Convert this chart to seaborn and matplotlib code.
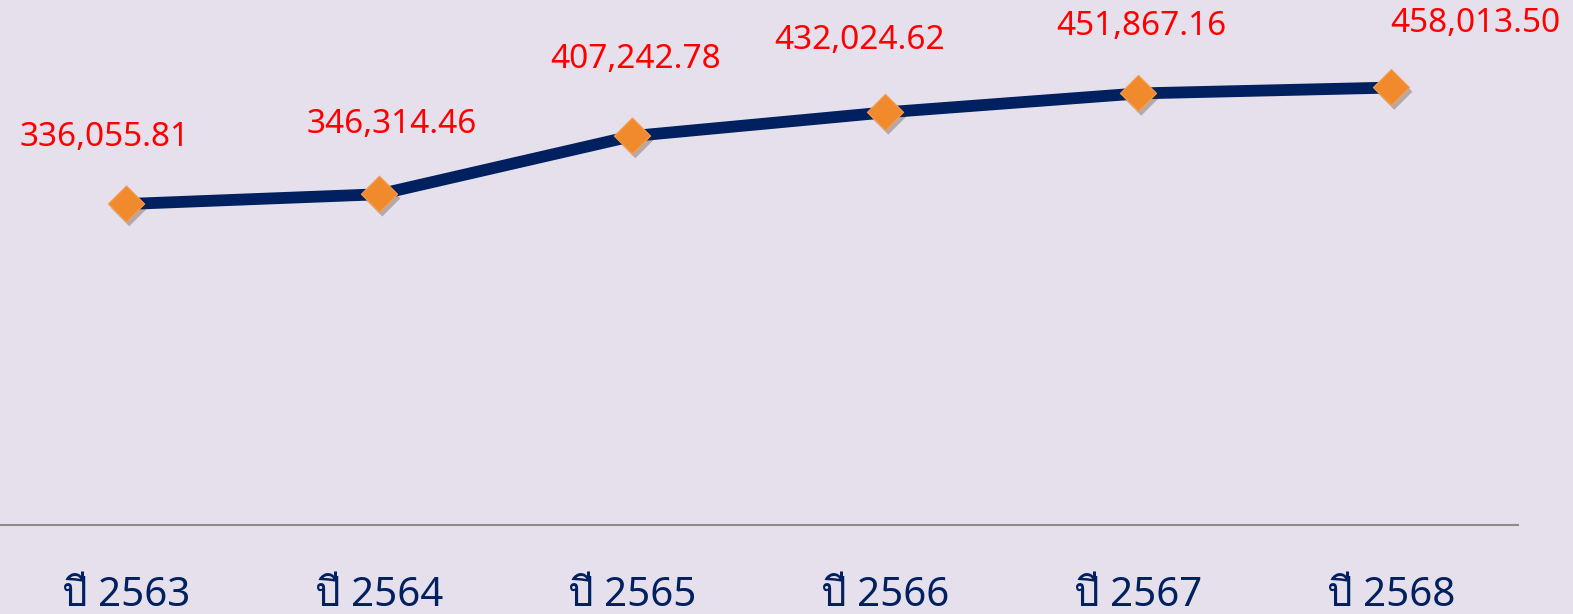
import matplotlib.pyplot as plt
import matplotlib.patheffects as pe
from matplotlib import font_manager
from matplotlib.ft2font import FT2Font
import seaborn as sns
import pandas as pd

years = ['ปี 2563', 'ปี 2564', 'ปี 2565', 'ปี 2566', 'ปี 2567', 'ปี 2568']
amounts = [336055.81, 346314.46, 407242.78, 432024.62, 451867.16, 458013.50]

# hand placed label offsets (points), like the original
label_offsets = [(-16, 48), (9, 50), (2, 55), (-19, 52), (2, 48), (60, 46)]

bg = '#E6E0EC'
navy = '#002060'


def thai_family():
    # look for any installed font that has the Thai glyphs
    for f in font_manager.fontManager.ttflist:
        try:
            cmap = FT2Font(f.fname).get_charmap()
        except Exception:
            continue
        if 0x0E1B in cmap and 0x0E35 in cmap:
            return f.name
    return None


sns.set_theme(style='white')
fams = ['Noto Sans']
th = thai_family()
if th:
    fams.append(th)
fams.append('DejaVu Sans')
plt.rcParams['font.family'] = fams

df = pd.DataFrame({'year': years, 'amount': amounts})

fig = plt.figure(figsize=(15.73, 6.14), dpi=100, facecolor=bg)
ax = fig.add_axes([0, 0.145, 1518 / 1573, 0.7777])
ax.set_facecolor(bg)

sns.lineplot(data=df, x='year', y='amount', color=navy, linewidth=8.5, ax=ax,
             sort=False)
sns.scatterplot(data=df, x='year', y='amount', marker='D', s=340, color='#F08A2C',
                edgecolor='#F5A050', linewidth=0.8, ax=ax, zorder=3,
                path_effects=[pe.SimplePatchShadow(offset=(2, -3), alpha=0.3),
                              pe.Normal()])

for i, (v, off) in enumerate(zip(amounts, label_offsets)):
    ax.annotate(f'{v:,.2f}', (i, v), xytext=off, textcoords='offset points',
                ha='center', va='center', color='red', fontsize=24,
                annotation_clip=False)

ax.set_xlim(-0.5, 5.5)
ax.set_ylim(0, 500000)
ax.set_xlabel('')
ax.set_ylabel('')
ax.set_yticks([])
ax.tick_params(axis='x', length=0, pad=37, labelsize=29, labelcolor=navy)
for s in ['top', 'left', 'right']:
    ax.spines[s].set_visible(False)
ax.spines['bottom'].set_color('#8C8C8C')
ax.spines['bottom'].set_linewidth(1.5)

fig.savefig('out.png', dpi=100, facecolor=bg)
